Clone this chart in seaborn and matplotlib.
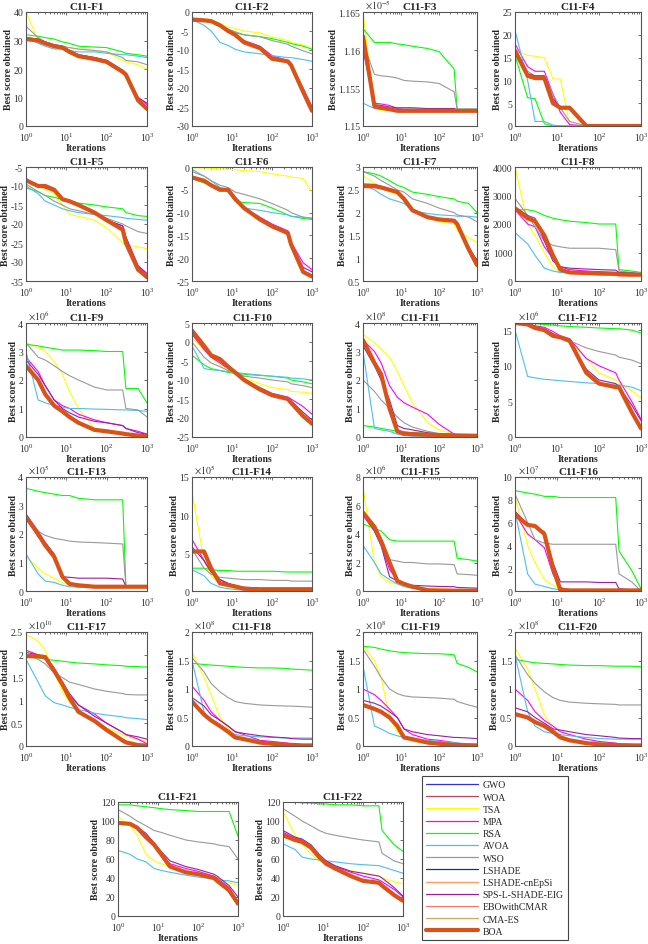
import numpy as np
import pandas as pd
import seaborn as sns
import matplotlib
matplotlib.use('Agg')
import matplotlib.pyplot as plt
from matplotlib.lines import Line2D
from matplotlib.ticker import FuncFormatter, LogLocator

iters = [1, 2, 3, 5, 8, 12, 20, 50, 100, 250, 300, 600, 1000]

titles = ['C11-F%d' % i for i in range(1, 23)]

algos = ['GWO', 'WOA', 'TSA', 'MPA', 'RSA', 'AVOA', 'WSO', 'LSHADE',
         'LSHADE-cnEpSi', 'SPS-L-SHADE-EIG', 'EBOwithCMAR', 'CMA-ES', 'BOA']
colors = ['#3333dd', '#b5485f', '#ffff00', '#ff00ff', '#00ff00', '#4dbeee',
          '#999999', '#1f2a99', '#ff9966', '#9b1fa0', '#f47c6c', '#d9a65a',
          '#d95319']

# y axis: lower, upper, tick step, x10^n exponent
y_lo = [0, -30, 1.15, 0, -35, -25, 0.5, 0, 0, -25, 0, 0, 0, 0, 0, 0, 0, 0, 0, 0, 0, 0]
y_hi = [40, 0, 1.165, 25, -5, 0, 3, 4000, 4, 5, 4, 16, 4, 15, 8, 10, 2.5, 2, 2, 2, 120, 120]
y_step = [10, 5, 0.005, 5, 5, 5, 0.5, 1000, 1, 5, 1, 5, 1, 5, 2, 2, 0.5, 0.5, 0.5, 0.5, 20, 20]
y_exp = [0, 0, -5, 0, 0, 0, 0, 0, 6, 0, 8, 6, 5, 5, 6, 7, 10, 8, 8, 8, 0, 0]

tsa = [
    [40, 30, 29, 28, 27.8, 27.5, 27, 26.5, 26, 23, 22.5, 21.5, 20],
    [-1.5, -1.8, -2, -3, -4, -4.3, -5, -5.5, -6.5, -7.5, -8, -8.7, -9.5],
    [1.165, 1.1522, 1.1521, 1.1521, 1.1521, 1.1521, 1.1521, 1.1521, 1.1521, 1.1521, 1.1521, 1.1521, 1.1521],
    [16.5, 15.5, 15.3, 15, 10.3, 10.3, 0.3, 0, 0, 0, 0, 0, 0],
    [-8.5, -10, -11, -12, -15, -17.5, -18, -19, -21, -25, -25.5, -26, -26.5],
    [-0.2, -0.2, -0.3, -0.4, -0.5, -0.6, -0.8, -1, -1.5, -2, -2.2, -2.5, -5.5],
    [2.8, 2.65, 2.55, 2.45, 2.4, 2.3, 2.05, 1.9, 1.8, 1.75, 1.6, 1.45, 1.35],
    [4000, 2000, 1600, 1000, 500, 300, 280, 270, 260, 250, 240, 220, 200],
    [3.3, 3.15, 3.0, 2.65, 2.2, 1.6, 1.0, 0.3, 0.25, 0.15, 0.12, 0.05, 0.02],
    [1, -2, -4, -6, -7.5, -8.5, -9.5, -11, -12, -12.5, -13, -13.2, -13.5],
    [3.6, 3.3, 3.1, 2.8, 2.3, 1.8, 1.2, 0.5, 0.25, 0.1, 0.08, 0.05, 0.03],
    [16, 15.8, 15.5, 15, 14.5, 14, 13.5, 11, 9, 8, 7.5, 6.5, 5.5],
    [1.2, 0.8, 0.6, 0.45, 0.3, 0.2, 0.15, 0.14, 0.14, 0.13, 0.13, 0.13, 0.13],
    [13, 4, 2, 1, 0.5, 0.3, 0.2, 0.1, 0.1, 0.1, 0.1, 0.1, 0.1],
    [7.3, 2, 1, 0.6, 0.5, 0.4, 0.3, 0.2, 0.15, 0.1, 0.1, 0.1, 0.1],
    [8.3, 4, 2.5, 1, 0.5, 0.2, 0.1, 0.05, 0.05, 0.05, 0.05, 0.05, 0.05],
    [2.45, 2.3, 2.1, 1.6, 1.2, 0.95, 0.8, 0.55, 0.4, 0.25, 0.2, 0.15, 0.1],
    [1.65, 1.2, 0.9, 0.5, 0.3, 0.2, 0.15, 0.08, 0.05, 0.03, 0.02, 0.02, 0.02],
    [1.75, 1.5, 1.2, 0.5, 0.25, 0.15, 0.08, 0.05, 0.03, 0.02, 0.02, 0.02, 0.02],
    [1.72, 1.35, 1.0, 0.55, 0.3, 0.2, 0.12, 0.06, 0.03, 0.02, 0.02, 0.02, 0.02],
    [105, 95, 85, 65, 58, 55, 52, 48, 45, 42, 40, 35, 32],
    [110, 85, 75, 65, 58, 55, 52, 48, 45, 42, 40, 36, 34],
]

rsa = [
    [32, 31.5, 31, 30.5, 29.5, 29, 28, 27.7, 27.5, 26, 25.5, 25, 24.5],
    [-1.8, -2, -2.3, -3.5, -5, -5.5, -6, -6.5, -7, -8, -8.3, -9, -9.8],
    [1.1628, 1.161, 1.161, 1.161, 1.1608, 1.1607, 1.1605, 1.1602, 1.1598, 1.1575, 1.1522, 1.1522, 1.1522],
    [15.5, 6.2, 6, 0.5, 0, 0, 0, 0, 0, 0, 0, 0, 0],
    [-10.5, -11.5, -12.5, -13, -13.5, -14, -14.5, -15, -15.5, -16, -17, -17.8, -18],
    [-2.5, -3.5, -4, -4.5, -5, -7.5, -7.8, -8, -9, -10.5, -10.8, -11.3, -11.5],
    [2.9, 2.85, 2.8, 2.7, 2.6, 2.55, 2.45, 2.4, 2.35, 2.3, 2.25, 2.2, 2.0],
    [2500, 2500, 2450, 2300, 2200, 2150, 2100, 2050, 2000, 2000, 400, 350, 300],
    [3.25, 3.2, 3.15, 3.1, 3.05, 3.05, 3.05, 3.03, 3.0, 3.0, 1.7, 1.7, 1.2],
    [-3.5, -6, -7, -7.5, -8, -8.2, -8.5, -8.8, -9, -9.5, -10, -10.5, -11],
    [0.4, 0.35, 0.3, 0.25, 0.2, 0.18, 0.15, 0.13, 0.12, 0.1, 0.1, 0.1, 0.1],
    [16, 16, 15.9, 15.8, 15.7, 15.6, 15.5, 15.4, 15.3, 15.2, 15.2, 15, 14.6],
    [3.6, 3.5, 3.45, 3.4, 3.35, 3.35, 3.25, 3.2, 3.2, 3.2, 0.15, 0.15, 0.15],
    [3, 3, 2.8, 2.7, 2.7, 2.6, 2.6, 2.6, 2.6, 2.5, 2.5, 2.5, 2.5],
    [4.7, 4.4, 4.2, 3.6, 3.5, 3.5, 3.5, 3.5, 3.5, 3.5, 2.3, 2.2, 2.1],
    [8.8, 8.6, 8.5, 8.3, 8.3, 8.2, 8.2, 8.2, 8.2, 8.2, 3.5, 1.8, 0.2],
    [1.95, 1.93, 1.9, 1.88, 1.86, 1.84, 1.82, 1.8, 1.78, 1.76, 1.75, 1.74, 1.73],
    [1.45, 1.43, 1.42, 1.41, 1.40, 1.39, 1.38, 1.37, 1.37, 1.36, 1.35, 1.34, 1.33],
    [1.75, 1.73, 1.7, 1.67, 1.65, 1.64, 1.63, 1.62, 1.62, 1.6, 1.45, 1.38, 1.3],
    [1.52, 1.48, 1.46, 1.45, 1.44, 1.43, 1.42, 1.41, 1.41, 1.4, 1.4, 1.4, 1.39],
    [117, 117, 116, 115, 114, 113, 112, 111, 110, 110, 110, 110, 84],
    [120, 120, 119, 119, 118, 118, 117, 117, 116, 116, 90, 75, 68],
]

wso = [
    [35, 31, 29.5, 28.5, 28, 27.5, 27, 26.5, 26, 24, 23, 22.5, 21.5],
    [-1.8, -2, -2.3, -3.5, -4.5, -5.2, -6, -6.5, -7.5, -8.5, -9, -10.2, -11],
    [1.161, 1.1568, 1.1566, 1.1565, 1.1563, 1.156, 1.1559, 1.1558, 1.1556, 1.1545, 1.1522, 1.1522, 1.1522],
    [17, 12, 11, 11, 7, 4, 1, 0, 0, 0, 0, 0, 0],
    [-9.5, -11.5, -12.5, -14, -15, -16, -16.5, -17.5, -18.5, -20, -20.5, -22, -22.5],
    [-1, -2, -3, -4, -4.5, -5.5, -6, -7, -8, -9.5, -10, -11, -11.2],
    [2.9, 2.8, 2.7, 2.6, 2.5, 2.45, 2.3, 2.2, 2.1, 2.0, 1.95, 1.9, 1.8],
    [2900, 2300, 1900, 1400, 1250, 1200, 1150, 1150, 1150, 1100, 350, 300, 250],
    [3.3, 2.8, 2.7, 2.5, 2.3, 2.15, 2.0, 1.75, 1.65, 1.65, 1.0, 0.95, 0.7],
    [0, -4, -5.5, -6.5, -7.5, -8, -9, -9.5, -10, -10.5, -11, -11.5, -12],
    [2.0, 1.6, 1.3, 1.0, 0.7, 0.5, 0.35, 0.2, 0.12, 0.08, 0.07, 0.05, 0.04],
    [16, 15.8, 15.3, 15, 14.5, 14, 13.5, 12.5, 12, 11.5, 11.2, 10.8, 10.3],
    [2.6, 2.1, 1.95, 1.85, 1.8, 1.75, 1.72, 1.7, 1.68, 1.65, 0.15, 0.15, 0.15],
    [5.5, 3, 2.2, 1.8, 1.7, 1.6, 1.5, 1.5, 1.4, 1.4, 1.3, 1.3, 1.3],
    [5.5, 4.5, 3.5, 2.2, 2.1, 2.0, 2.0, 1.9, 1.9, 1.85, 1.2, 1.15, 1.1],
    [8.5, 6, 4.5, 4.2, 4.1, 4.1, 4.1, 4.1, 4.1, 4.1, 1.5, 0.8, 0],
    [2.0, 1.9, 1.8, 1.6, 1.5, 1.4, 1.35, 1.25, 1.2, 1.15, 1.13, 1.12, 1.12],
    [1.55, 1.3, 1.1, 0.95, 0.85, 0.78, 0.75, 0.72, 0.71, 0.7, 0.7, 0.69, 0.68],
    [1.7, 1.4, 1.2, 1.0, 0.92, 0.88, 0.86, 0.85, 0.84, 0.82, 0.78, 0.72, 0.68],
    [1.6, 1.25, 1.1, 0.95, 0.85, 0.8, 0.77, 0.75, 0.74, 0.73, 0.72, 0.72, 0.72],
    [112, 105, 100, 95, 90, 88, 85, 80, 78, 76, 75, 73, 60],
    [113, 105, 100, 95, 90, 87, 85, 82, 80, 78, 66, 58, 55],
]

avoa = [
    [31, 29, 28, 27, 27, 26.5, 26, 26, 25.5, 25, 25, 24.5, 24],
    [-2, -3.5, -5, -8, -8.8, -9.8, -10.5, -11, -11.5, -12, -12, -12.5, -13],
    [1.153, 1.1523, 1.1522, 1.1522, 1.1522, 1.1522, 1.1522, 1.1522, 1.1522, 1.1522, 1.1522, 1.1522, 1.1522],
    [21, 10, 1, 1, 0.2, 0, 0, 0, 0, 0, 0, 0, 0],
    [-10, -12, -14, -15, -16, -16.5, -17, -17.5, -17.8, -18.3, -18.5, -18.8, -19],
    [-0.5, -2, -3, -4.5, -5.5, -7.5, -9, -9.5, -10, -10.5, -10.8, -11, -11.3],
    [2.6, 2.5, 2.4, 2.3, 2.25, 2.2, 2.05, 1.98, 1.95, 1.93, 1.92, 1.92, 1.9],
    [1700, 1300, 900, 450, 350, 300, 280, 270, 260, 250, 250, 250, 250],
    [3.0, 1.3, 1.2, 1.1, 1.05, 1.0, 1.0, 0.98, 0.97, 0.95, 0.95, 0.93, 0.9],
    [-1, -7, -7.3, -7.5, -7.8, -8, -8.3, -8.7, -9, -9.3, -9.5, -9.7, -10],
    [3.0, 0.3, 0.25, 0.2, 0.1, 0.05, 0.03, 0.02, 0.02, 0.02, 0.02, 0.02, 0.02],
    [15, 8.5, 8.3, 8.1, 8.0, 7.9, 7.8, 7.6, 7.5, 7.4, 7.3, 7, 6.5],
    [1.3, 0.6, 0.35, 0.3, 0.2, 0.15, 0.13, 0.13, 0.13, 0.13, 0.13, 0.13, 0.13],
    [2.8, 2, 1, 0.5, 0.3, 0.2, 0.1, 0, 0, 0, 0, 0, 0],
    [3.2, 2.0, 1.2, 0.8, 0.5, 0.3, 0.2, 0.1, 0.05, 0.05, 0.05, 0.05, 0.05],
    [7, 1.5, 0.6, 0.4, 0.2, 0.1, 0, 0, 0, 0, 0, 0, 0],
    [1.9, 1.4, 1.1, 0.95, 0.9, 0.85, 0.8, 0.72, 0.68, 0.64, 0.62, 0.6, 0.58],
    [1.5, 0.6, 0.45, 0.35, 0.25, 0.2, 0.18, 0.16, 0.15, 0.14, 0.14, 0.14, 0.14],
    [1.4, 0.35, 0.3, 0.22, 0.18, 0.15, 0.12, 0.1, 0.08, 0.06, 0.05, 0.04, 0.03],
    [1.6, 0.6, 0.35, 0.25, 0.22, 0.2, 0.18, 0.15, 0.13, 0.12, 0.12, 0.12, 0.12],
    [69, 65, 60, 57, 50, 48, 46, 43, 41, 39, 38, 37, 35],
    [76, 70, 62, 60, 59, 58, 57, 55, 54, 53, 52, 48, 45],
]

mpa = [
    [31, 30.5, 29.5, 28.5, 28, 26.5, 25, 24, 23, 19.5, 18.5, 10, 7.5],
    [-1.8, -2, -2.3, -3.5, -4.8, -5.8, -7.5, -9, -11.5, -12.8, -14, -20, -25],
    [1.160, 1.153, 1.1529, 1.1527, 1.1523, 1.1522, 1.1522, 1.1522, 1.1522, 1.1522, 1.1521, 1.1521, 1.1521],
    [18, 13, 12, 12, 7, 3, 0.3, 0, 0, 0, 0, 0, 0],
    [-8, -10, -10.5, -11.5, -13.5, -14, -15, -17, -19, -20.5, -23.5, -31, -33.5],
    [-2, -3, -4, -5, -5, -7, -9, -11, -12.5, -14, -16.5, -21, -22.5],
    [2.63, 2.62, 2.58, 2.52, 2.47, 2.3, 2.08, 1.92, 1.87, 1.85, 1.78, 1.25, 0.95],
    [2500, 2000, 1900, 1200, 800, 500, 400, 350, 330, 300, 280, 250, 250],
    [2.8, 2.3, 1.8, 1.3, 1.1, 1.0, 0.8, 0.6, 0.5, 0.4, 0.3, 0.2, 0.1],
    [2, -2, -4, -5.5, -7, -8, -10, -12, -13.5, -14.5, -15, -17, -19],
    [3.4, 3.0, 2.6, 1.8, 1.4, 1.2, 1.05, 0.8, 0.45, 0.1, 0.05, 0.03, 0.02],
    [16, 16, 15.6, 15.4, 14.8, 14.2, 13.8, 11, 10, 9, 8, 5, 2.5],
    [2.7, 2.1, 1.7, 1.25, 0.45, 0.25, 0.2, 0.15, 0.15, 0.15, 0.13, 0.13, 0.13],
    [6.8, 4, 2.5, 1.5, 1, 0.6, 0.3, 0.2, 0.2, 0.2, 0.2, 0.2, 0.2],
    [5.3, 4.2, 3.2, 1.5, 0.8, 0.5, 0.3, 0.1, 0.05, 0.03, 0.02, 0.01, 0.01],
    [6.8, 5.0, 4.5, 3.8, 1.5, 0.3, 0.1, 0.05, 0.05, 0.05, 0.05, 0.05, 0.05],
    [2.1, 2.0, 1.95, 1.7, 1.4, 1.1, 0.9, 0.7, 0.5, 0.3, 0.25, 0.15, 0.05],
    [1.05, 0.8, 0.6, 0.45, 0.35, 0.25, 0.2, 0.1, 0.08, 0.05, 0.04, 0.02, 0.0],
    [1.0, 0.9, 0.8, 0.65, 0.5, 0.3, 0.2, 0.12, 0.1, 0.06, 0.05, 0.03, 0.02],
    [1.0, 0.8, 0.6, 0.45, 0.35, 0.25, 0.2, 0.12, 0.08, 0.05, 0.04, 0.03, 0.02],
    [98, 96, 93, 85, 75, 65, 55, 50, 47, 42, 40, 30, 15],
    [88, 82, 80, 73, 63, 58, 52, 46, 42, 38, 36, 28, 20],
]

sps = [
    [31, 30.5, 29.5, 28.5, 28, 26.5, 25, 24, 23, 19.5, 18.5, 10, 8],
    [-1.8, -2.1, -2.3, -3.6, -4.9, -6, -7.8, -9.3, -12, -13, -14, -20.5, -25],
    [1.1605, 1.1528, 1.1527, 1.1525, 1.1524, 1.1524, 1.1524, 1.1523, 1.1523, 1.1523, 1.1521, 1.1521, 1.1521],
    [17, 11.5, 11, 11, 6, 4, 4, 0, 0, 0, 0, 0, 0],
    [-8.3, -10, -10.5, -11.3, -13.5, -14, -15, -17, -19, -20.5, -23.5, -31, -33],
    [-2.1, -3, -4, -5, -5, -7, -9, -11.3, -12.8, -14.3, -16.8, -22, -23],
    [2.6, 2.6, 2.57, 2.52, 2.46, 2.3, 2.07, 1.91, 1.86, 1.84, 1.77, 1.25, 0.93],
    [2600, 2300, 2200, 1400, 700, 500, 450, 420, 400, 380, 300, 280, 260],
    [2.7, 2.2, 1.8, 1.3, 1.0, 0.85, 0.7, 0.55, 0.5, 0.4, 0.3, 0.15, 0.1],
    [2.5, -1.5, -3.8, -5, -6.8, -8, -10, -12.5, -13.8, -14.8, -15.5, -18.5, -20.5],
    [3.2, 2.5, 2.0, 1.3, 0.4, 0.3, 0.25, 0.15, 0.1, 0.08, 0.07, 0.05, 0.04],
    [16, 15.8, 15.5, 15.2, 14.5, 14, 13.5, 9.5, 8, 7.5, 7, 4.5, 2.3],
    [2.6, 1.9, 1.7, 1.3, 0.5, 0.48, 0.45, 0.45, 0.45, 0.42, 0.15, 0.15, 0.15],
    [5.8, 4, 2.5, 1.5, 1, 0.7, 0.5, 0.4, 0.4, 0.4, 0.4, 0.4, 0.4],
    [5.6, 4.2, 3.2, 1.0, 0.7, 0.5, 0.4, 0.35, 0.32, 0.3, 0.25, 0.22, 0.2],
    [7.0, 5.8, 5.6, 5.2, 2.5, 0.8, 0.8, 0.8, 0.75, 0.75, 0.2, 0.1, 0.1],
    [2.05, 2.0, 1.95, 1.7, 1.4, 1.15, 0.9, 0.65, 0.5, 0.3, 0.25, 0.2, 0.15],
    [0.85, 0.7, 0.55, 0.45, 0.35, 0.25, 0.22, 0.18, 0.16, 0.14, 0.13, 0.12, 0.12],
    [0.8, 0.75, 0.7, 0.6, 0.5, 0.3, 0.25, 0.2, 0.18, 0.15, 0.15, 0.14, 0.13],
    [0.67, 0.6, 0.5, 0.4, 0.3, 0.28, 0.25, 0.2, 0.18, 0.15, 0.14, 0.13, 0.13],
    [99, 97, 94, 87, 77, 68, 58, 52, 49, 44, 42, 32, 20],
    [90, 83, 81, 75, 65, 58, 53, 47, 45, 42, 40, 30, 21],
]

boa = [
    [30.5, 30, 29, 28, 27.5, 26, 24.5, 23.5, 22.5, 19, 18, 9, 6],
    [-2, -2.2, -2.4, -3.5, -5, -6, -8, -9.5, -12.3, -13, -14, -21, -26],
    [1.1618, 1.1526, 1.1524, 1.1522, 1.152, 1.152, 1.152, 1.152, 1.152, 1.152, 1.152, 1.152, 1.152],
    [16.5, 11, 10.5, 10.5, 5, 4, 4, 0, 0, 0, 0, 0, 0],
    [-8.5, -10, -10, -11, -13.5, -14, -15, -17, -19, -21.5, -25, -32, -34],
    [-2.3, -3, -4, -5, -5, -7, -9, -11.5, -13, -14.5, -17, -23, -24],
    [2.58, 2.58, 2.55, 2.5, 2.45, 2.3, 2.05, 1.9, 1.85, 1.82, 1.75, 1.2, 0.85],
    [2550, 2200, 2100, 1600, 900, 400, 300, 280, 260, 250, 230, 220, 220],
    [2.5, 2.0, 1.5, 1.1, 0.9, 0.7, 0.5, 0.25, 0.2, 0.12, 0.1, 0.05, 0.02],
    [3, -1, -3.5, -4.5, -6.5, -8, -10, -12.5, -14, -15, -16, -19.5, -21.5],
    [3.4, 2.6, 2.2, 1.0, 0.2, 0.12, 0.1, 0.08, 0.07, 0.06, 0.05, 0.04, 0.03],
    [16, 15.8, 15.3, 15, 14.2, 14, 13.5, 9, 7.5, 7, 7, 3.5, 1.2],
    [2.6, 2.0, 1.6, 1.2, 0.5, 0.25, 0.2, 0.15, 0.15, 0.15, 0.15, 0.15, 0.15],
    [5.2, 5.2, 3.0, 1.0, 0.8, 0.6, 0.3, 0.2, 0.2, 0.2, 0.2, 0.2, 0.2],
    [5.5, 4.5, 3.5, 2.0, 0.7, 0.5, 0.3, 0.05, 0.03, 0.02, 0.02, 0.02, 0.02],
    [6.7, 5.8, 5.7, 5.0, 2.0, 0.1, 0.05, 0.05, 0.05, 0.05, 0.05, 0.05, 0.05],
    [1.97, 1.97, 1.95, 1.65, 1.35, 1.05, 0.75, 0.55, 0.35, 0.12, 0.08, 0.02, 0.01],
    [0.78, 0.55, 0.45, 0.35, 0.25, 0.15, 0.12, 0.06, 0.04, 0.02, 0.02, 0.01, 0.01],
    [0.72, 0.65, 0.6, 0.5, 0.35, 0.15, 0.12, 0.06, 0.04, 0.02, 0.02, 0.01, 0.01],
    [0.56, 0.5, 0.42, 0.35, 0.25, 0.15, 0.1, 0.05, 0.03, 0.02, 0.01, 0.01, 0.01],
    [98, 97, 93, 83, 75, 65, 52, 46, 44, 40, 37, 27, 13],
    [85, 80, 78, 72, 62, 55, 50, 42, 37, 35, 32, 22, 16],
]

# algorithms whose curves lie under the BOA line share its readings
curve_of = {'GWO': boa, 'WOA': boa, 'TSA': tsa, 'MPA': mpa, 'RSA': rsa,
            'AVOA': avoa, 'WSO': wso, 'LSHADE': boa, 'LSHADE-cnEpSi': boa,
            'SPS-L-SHADE-EIG': sps, 'EBOwithCMAR': boa, 'CMA-ES': boa,
            'BOA': boa}
palette = dict(zip(algos, colors))

sns.set_style('white')
plt.rcParams['font.family'] = ['Liberation Serif', 'DejaVu Serif']
plt.rcParams['mathtext.fontset'] = 'stix'

W, H = 648, 945
fig = plt.figure(figsize=(W / 100, H / 100), dpi=100)

# panel boxes in pixels: left, top, width
col_left = [26, 192, 363, 515]
col_w = [121, 120, 114, 126]
row_top = [13, 168, 324, 478, 633]
boxes = [(col_left[i % 4], row_top[i // 4], col_w[i % 4]) for i in range(20)]
boxes += [(118, 803, 120), (283, 803, 120)]
bh = 114

thin = [a for a in algos if a != 'BOA']

for k in range(22):
    left, top, bw = boxes[k]
    ax = fig.add_axes([left / W, 1 - (top + bh) / H, bw / W, bh / H])
    ax.set_xscale('log')
    rows = []
    for a in algos:
        for x, v in zip(iters, curve_of[a][k]):
            rows.append((a, x, v))
    df = pd.DataFrame(rows, columns=['algo', 'it', 'val'])
    sns.lineplot(data=df[df.algo != 'BOA'], x='it', y='val', hue='algo',
                 hue_order=thin, palette=palette, lw=0.8, legend=False,
                 estimator=None, sort=False, ax=ax)
    sns.lineplot(data=df[df.algo == 'BOA'], x='it', y='val',
                 color=palette['BOA'], lw=3, legend=False,
                 estimator=None, sort=False, ax=ax)

    ax.set_xlim(1, 1000)
    ax.set_ylim(y_lo[k], y_hi[k])
    ax.set_yticks(np.arange(y_lo[k], y_hi[k] + y_step[k] * 0.01, y_step[k]))
    ax.yaxis.set_major_formatter(FuncFormatter(lambda v, p: '%g' % round(v, 6)))
    ax.xaxis.set_major_locator(LogLocator(base=10, numticks=5))
    ax.xaxis.set_minor_locator(LogLocator(base=10, subs=np.arange(2, 10), numticks=12))
    ax.tick_params(which='both', direction='in', top=True, right=True,
                   width=0.5, colors='#333333', labelsize=7)
    ax.tick_params(axis='y', pad=2)
    ax.tick_params(axis='x', pad=3)
    ax.tick_params(which='major', length=2.5)
    ax.tick_params(which='minor', length=1.5)
    for s in ax.spines.values():
        s.set_color('#555555')
        s.set_linewidth(0.8)
    ax.set_title(titles[k], fontsize=8, fontweight='bold', pad=2)
    ax.set_xlabel('Iterations', fontsize=7, fontweight='bold', labelpad=0.5)
    ax.set_ylabel('Best score obtained', fontsize=7, fontweight='bold', labelpad=0.5)
    if y_exp[k]:
        ax.text(0.02, 1.005, r'$\times10^{%d}$' % y_exp[k], transform=ax.transAxes,
                ha='left', va='bottom', fontsize=7, color='#333333')

handles = [Line2D([], [], color=c, lw=3 if a == 'BOA' else 0.9)
           for a, c in zip(algos, colors)]
leg = fig.legend(handles, algos, loc='upper left',
                 bbox_to_anchor=(422 / W, 1 - 777 / H), borderaxespad=0,
                 fontsize=7, handlelength=5.3, handletextpad=0.5,
                 labelspacing=0.33, borderpad=0.45, fancybox=False,
                 framealpha=1, edgecolor='#444444')
leg.get_frame().set_linewidth(0.8)

fig.savefig('out.png', dpi=100)
